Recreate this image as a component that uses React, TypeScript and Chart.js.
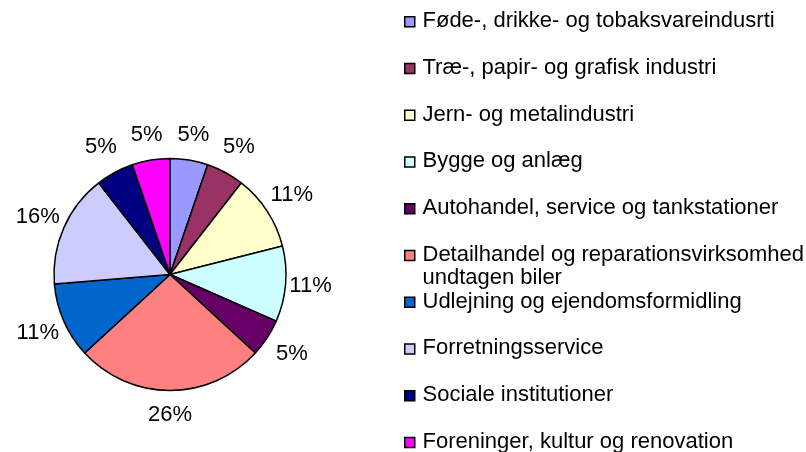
import React, { useEffect, useRef } from "react";
import { Chart, registerables } from "chart.js";

Chart.register(...registerables);

const categories: string[][] = [
  ["Føde-, drikke- og tobaksvareindusrti"],
  ["Træ-, papir- og grafisk industri"],
  ["Jern- og metalindustri"],
  ["Bygge og anlæg"],
  ["Autohandel, service og tankstationer"],
  ["Detailhandel og reparationsvirksomhed", "undtagen biler"],
  ["Udlejning og ejendomsformidling"],
  ["Forretningsservice"],
  ["Sociale institutioner"],
  ["Foreninger, kultur og renovation"],
];

const counts: number[] = [1, 1, 2, 2, 1, 5, 2, 3, 1, 1];

const colors: string[] = [
  "#9999FF",
  "#993366",
  "#FFFFCC",
  "#CCFFFF",
  "#660066",
  "#FF8080",
  "#0066CC",
  "#CCCCFF",
  "#000080",
  "#FF00FF",
];

const FONT = '22px "Liberation Sans", Arial, sans-serif';

const pieLabels = {
  id: "pieLabels",
  afterDatasetsDraw(chart: any) {
    const ctx = chart.ctx;
    const meta = chart.getDatasetMeta(0);
    const data = chart.data.datasets[0].data as number[];
    const total = data.reduce((a, b) => a + b, 0);
    ctx.save();
    ctx.font = FONT;
    ctx.fillStyle = "#000";
    ctx.textAlign = "center";
    ctx.textBaseline = "middle";
    meta.data.forEach((arc: any, i: number) => {
      const p = arc.getProps(["x", "y", "startAngle", "endAngle", "outerRadius"], true);
      const a = (p.startAngle + p.endAngle) / 2;
      const d = p.outerRadius + 24 + 6 * Math.abs(Math.sin(2 * a));
      const txt = Math.round((data[i] / total) * 100) + "%";
      ctx.fillText(txt, p.x + Math.cos(a) * d, p.y + Math.sin(a) * d);
    });
    ctx.restore();
  },
};

const customLegend = {
  id: "customLegend",
  afterDraw(chart: any) {
    const ctx = chart.ctx;
    const labels = chart.data.labels as string[][];
    const bg = chart.data.datasets[0].backgroundColor as string[];
    ctx.save();
    ctx.font = FONT;
    ctx.textAlign = "left";
    ctx.textBaseline = "alphabetic";
    labels.forEach((lines, i) => {
      const base = 27 + 46.75 * i;
      ctx.fillStyle = bg[i];
      ctx.fillRect(404.75, base - 10.25, 10, 10);
      ctx.strokeStyle = "#000";
      ctx.lineWidth = 1.5;
      ctx.strokeRect(404.75, base - 10.25, 10, 10);
      ctx.fillStyle = "#000";
      lines.forEach((ln, j) => {
        ctx.fillText(ln, 422.5, base + j * 23);
      });
    });
    ctx.restore();
  },
};

export default function App() {
  const ref = useRef<HTMLCanvasElement | null>(null);
  useEffect(() => {
    if (!ref.current) return;
    const chart = new Chart(ref.current, {
      type: "pie",
      data: {
        labels: categories as any,
        datasets: [
          {
            data: counts,
            backgroundColor: colors,
            borderColor: "#000",
            borderWidth: 1.5,
            radius: 116,
          } as any,
        ],
      },
      options: {
        responsive: false,
        animation: false,
        devicePixelRatio: 1,
        layout: { padding: { left: 40, right: 506, top: 150, bottom: 53 } },
        plugins: {
          legend: { display: false },
          tooltip: { enabled: false },
        },
      },
      plugins: [pieLabels, customLegend],
    });
    return () => chart.destroy();
  }, []);
  return (
    <div style={{ position: "fixed", left: 0, top: 0, width: 806, height: 452, background: "#fff" }}>
      <canvas ref={ref} width={806} height={452} style={{ width: 806, height: 452 }} />
    </div>
  );
}
